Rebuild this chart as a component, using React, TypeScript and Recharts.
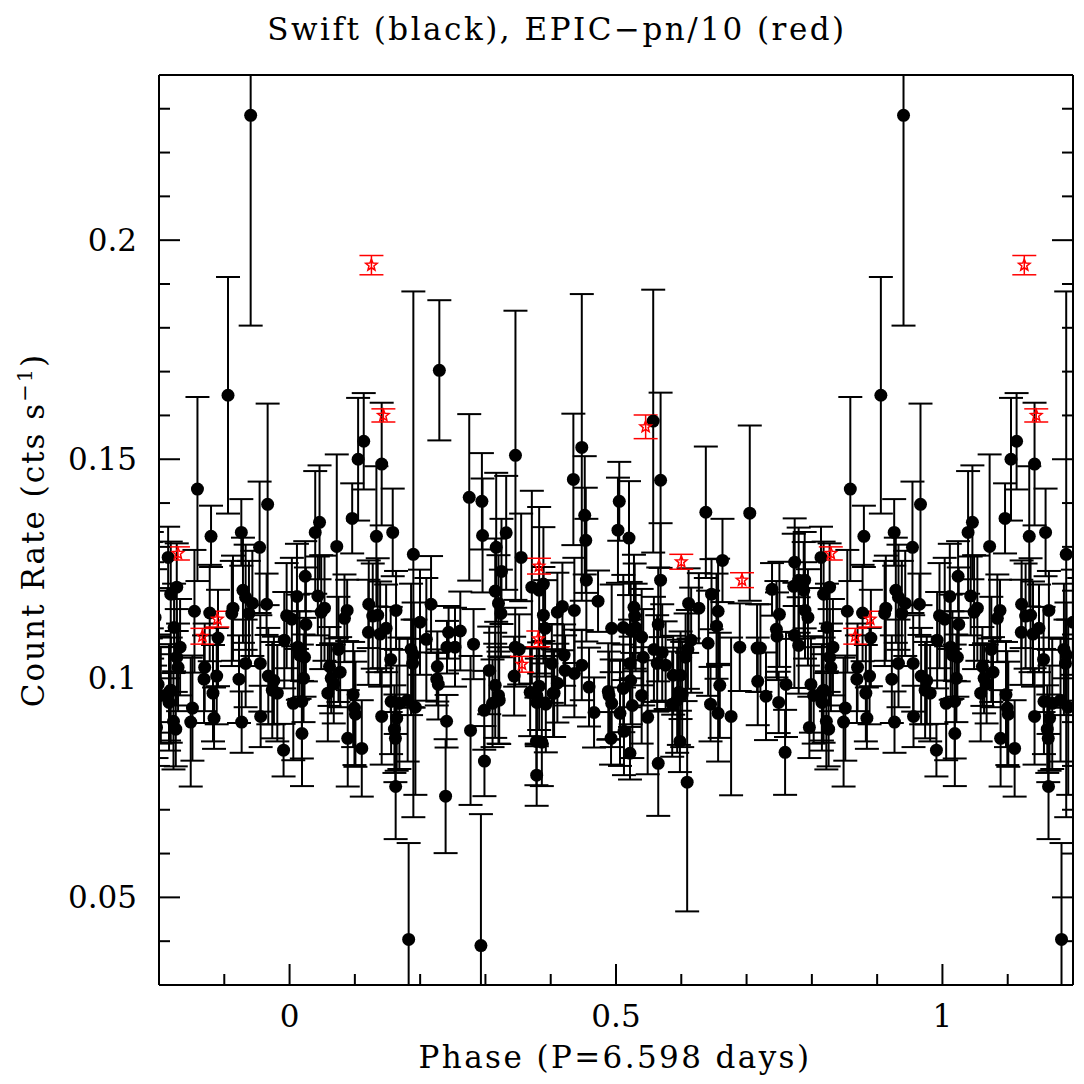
import React from 'react';
import { ScatterChart, Scatter, XAxis, YAxis, ErrorBar } from 'recharts';

// Swift light curve folded on P = 6.598 d: [phase, count rate, 1-sigma error]
const swiftPoints: [number, number, number][] = [
  [0.0035, 0.1135, 0.014], [0.0057, 0.0943, 0.013], [0.0113, 0.1187, 0.012], [0.0127, 0.1071, 0.012],
  [0.0153, 0.1053, 0.010], [0.0188, 0.0947, 0.013], [0.019, 0.0874, 0.012], [0.0214, 0.1000, 0.010],
  [0.0229, 0.1048, 0.009], [0.024, 0.1233, 0.008], [0.025, 0.1123, 0.013], [0.0393, 0.1333, 0.014],
  [0.0433, 0.1188, 0.009], [0.0459, 0.1356, 0.013], [0.0485, 0.1151, 0.013], [0.0535, 0.1160, 0.012],
  [0.0586, 0.0966, 0.011], [0.0612, 0.1027, 0.009], [0.0638, 0.1000, 0.008], [0.0677, 0.0987, 0.009],
  [0.0723, 0.1301, 0.021], [0.0749, 0.1066, 0.012], [0.0775, 0.1014, 0.008], [0.0841, 0.1137, 0.010],
  [0.0882, 0.1155, 0.007], [0.0891, 0.0863, 0.011], [0.0959, 0.1365, 0.008], [0.0974, 0.0963, 0.012],
  [0.0994, 0.0932, 0.013], [0.1009, 0.0918, 0.012], [0.105, 0.1500, 0.014], [0.1106, 0.0840, 0.011],
  [0.1136, 0.1541, 0.011], [0.1208, 0.1105, 0.012], [0.1213, 0.1169, 0.010], [0.1274, 0.1142, 0.012],
  [0.133, 0.1324, 0.016], [0.135, 0.1144, 0.013], [0.1387, 0.1101, 0.012], [0.1411, 0.1489, 0.014],
  [0.1411, 0.0913, 0.011], [0.1479, 0.1114, 0.010], [0.1549, 0.1043, 0.012], [0.1555, 0.0947, 0.012],
  [0.158, 0.1333, 0.010], [0.1606, 0.0884, 0.010], [0.1621, 0.0863, 0.010], [0.1625, 0.0753, 0.012],
  [0.1631, 0.1155, 0.009], [0.1641, 0.0909, 0.012], [0.1682, 0.0943, 0.015], [0.1809, 0.0950, 0.014],
  [0.1824, 0.0404, 0.022], [0.1861, 0.1066, 0.015], [0.1885, 0.1034, 0.010], [0.1896, 0.1283, 0.060],
  [0.19, 0.1053, 0.012], [0.1927, 0.0934, 0.020], [0.1998, 0.1128, 0.012], [0.2095, 0.1089, 0.014],
  [0.2167, 0.1169, 0.011], [0.2255, 0.0998, 0.006], [0.2263, 0.1027, 0.008], [0.2278, 0.0986, 0.008],
  [0.2294, 0.1703, 0.016], [0.239, 0.0731, 0.013], [0.2405, 0.0902, 0.006], [0.2411, 0.1071, 0.006],
  [0.2436, 0.1105, 0.006], [0.2534, 0.1071, 0.009], [0.2615, 0.1108, 0.009], [0.2752, 0.1413, 0.019],
  [0.2772, 0.0881, 0.017], [0.2818, 0.1078, 0.008], [0.2931, 0.0390, 0.030], [0.2946, 0.1404, 0.011],
  [0.2956, 0.1326, 0.013], [0.2982, 0.0927, 0.009], [0.2985, 0.0811, 0.008], [0.3058, 0.1018, 0.010],
  [0.3109, 0.0943, 0.010], [0.315, 0.1199, 0.012], [0.315, 0.0984, 0.012], [0.3165, 0.1299, 0.017],
  [0.32, 0.1171, 0.011], [0.32, 0.0961, 0.011], [0.3211, 0.0950, 0.010], [0.3237, 0.1148, 0.010],
  [0.3246, 0.1244, 0.012], [0.3318, 0.1332, 0.013], [0.344, 0.1005, 0.009], [0.3456, 0.1071, 0.009],
  [0.346, 0.1509, 0.033], [0.3517, 0.1066, 0.008], [0.3547, 0.1276, 0.010], [0.3685, 0.0968, 0.010],
  [0.3711, 0.1208, 0.022], [0.3781, 0.0856, 0.010], [0.3785, 0.0779, 0.007], [0.3787, 0.0961, 0.011],
  [0.3787, 0.0945, 0.010], [0.3823, 0.1201, 0.019], [0.3823, 0.0982, 0.010], [0.3864, 0.0854, 0.010],
  [0.3888, 0.1215, 0.013], [0.3888, 0.1144, 0.011], [0.3914, 0.1114, 0.011], [0.3925, 0.0941, 0.011],
  [0.4017, 0.1034, 0.009], [0.4037, 0.0966, 0.010], [0.4052, 0.0966, 0.010], [0.4102, 0.1151, 0.009],
  [0.4102, 0.0989, 0.009], [0.4179, 0.1164, 0.010], [0.4205, 0.1053, 0.007], [0.422, 0.1018, 0.008],
  [0.4347, 0.1454, 0.015], [0.4362, 0.1155, 0.012], [0.4362, 0.1011, 0.010], [0.4476, 0.1527, 0.035],
  [0.4476, 0.1030, 0.008], [0.4521, 0.1372, 0.0135], [0.4537, 0.1315, 0.012], [0.4546, 0.1224, 0.014],
  [0.4587, 0.0980, 0.009], [0.4664, 0.0922, 0.008], [0.4725, 0.1176, 0.007], [0.4882, 0.0970, 0.011],
  [0.4893, 0.0961, 0.010], [0.4924, 0.0863, 0.006], [0.4934, 0.1114, 0.010], [0.4934, 0.0943, 0.010],
  [0.503, 0.1338, 0.012], [0.505, 0.1404, 0.009], [0.5061, 0.0920, 0.012], [0.5112, 0.1116, 0.012],
  [0.5112, 0.0977, 0.010], [0.5122, 0.0879, 0.010], [0.5199, 0.1320, 0.013], [0.5214, 0.1034, 0.010],
  [0.5214, 0.0829, 0.006], [0.5225, 0.1110, 0.011], [0.5225, 0.0995, 0.010], [0.525, 0.0938, 0.012],
  [0.5275, 0.1162, 0.012], [0.5286, 0.1142, 0.012], [0.5301, 0.1116, 0.010], [0.5393, 0.1094, 0.011],
  [0.5393, 0.0961, 0.011], [0.5417, 0.1048, 0.011], [0.5485, 0.0911, 0.013], [0.557, 0.1587, 0.030],
  [0.5581, 0.1066, 0.012], [0.5631, 0.1034, 0.011], [0.5647, 0.1123, 0.013], [0.5647, 0.0806, 0.012],
  [0.5683, 0.1452, 0.020], [0.5683, 0.1224, 0.013], [0.5708, 0.1059, 0.011], [0.576, 0.1030, 0.010],
  [0.5861, 0.0941, 0.012], [0.5876, 0.1007, 0.009], [0.5937, 0.0950, 0.012], [0.5963, 0.0968, 0.012],
  [0.5979, 0.0856, 0.007], [0.5989, 0.1007, 0.010], [0.6014, 0.0963, 0.012], [0.6066, 0.1048, 0.010],
  [0.609, 0.0763, 0.0295], [0.6101, 0.1066, 0.009], [0.6112, 0.1171, 0.008], [0.6151, 0.1087, 0.012],
  [0.6269, 0.1160, 0.008], [0.6376, 0.1379, 0.015], [0.6411, 0.1080, 0.012], [0.6448, 0.0941, 0.0085],
  [0.6463, 0.1192, 0.008], [0.654, 0.1119, 0.012], [0.6564, 0.1153, 0.012], [0.6564, 0.0920, 0.011],
  [0.659, 0.0984, 0.012], [0.6631, 0.1269, 0.0095], [0.6763, 0.0913, 0.018], [0.6896, 0.1071, 0.010],
  [0.7049, 0.1377, 0.020], [0.7161, 0.1069, 0.010], [0.7171, 0.0993, 0.010], [0.7212, 0.1069, 0.010],
  [0.7298, 0.0959, 0.010], [0.739, 0.1203, 0.006], [0.7457, 0.1112, 0.011], [0.7466, 0.1096, 0.010],
  [0.7492, 0.0945, 0.007], [0.7503, 0.1146, 0.012], [0.759, 0.0831, 0.0097], [0.7604, 0.0986, 0.012],
  [0.7722, 0.1210, 0.012], [0.7732, 0.1098, 0.012], [0.7737, 0.1265, 0.010], [0.7798, 0.1224, 0.012],
  [0.7798, 0.1075, 0.011], [0.7875, 0.1201, 0.011], [0.789, 0.1224, 0.011], [0.7895, 0.1155, 0.011],
  [0.794, 0.1139, 0.011], [0.7962, 0.0888, 0.007], [0.7986, 0.0986, 0.011], [0.8028, 0.0961, 0.011],
  [0.814, 0.1276, 0.007], [0.8154, 0.0968, 0.011], [0.8154, 0.0945, 0.011], [0.818, 0.1192, 0.012],
  [0.818, 0.0973, 0.012], [0.8222, 0.0902, 0.011], [0.8231, 0.1116, 0.010], [0.8257, 0.0884, 0.0085],
  [0.8272, 0.1208, 0.010], [0.8272, 0.1048, 0.011], [0.8292, 0.1025, 0.010], [0.8323, 0.1071, 0.011],
  [0.8486, 0.0900, 0.0147], [0.8512, 0.0932, 0.012], [0.8543, 0.1153, 0.014], [0.8589, 0.1432, 0.021],
  [0.869, 0.0998, 0.010], [0.87, 0.1025, 0.010], [0.8777, 0.1149, 0.011], [0.8797, 0.1324, 0.007],
  [0.8827, 0.0966, 0.011], [0.8843, 0.0909, 0.007], [0.8884, 0.1005, 0.011], [0.8904, 0.1092, 0.011],
  [0.9057, 0.1646, 0.027], [0.9115, 0.1148, 0.012], [0.9133, 0.1160, 0.012], [0.9225, 0.0998, 0.010],
  [0.9261, 0.1333, 0.0076], [0.9266, 0.0900, 0.007], [0.9286, 0.1201, 0.012], [0.9327, 0.1185, 0.012],
  [0.9327, 0.1034, 0.010], [0.9378, 0.1148, 0.012], [0.9404, 0.2285, 0.048], [0.943, 0.1171, 0.012],
  [0.9541, 0.1299, 0.015], [0.9552, 0.1034, 0.011], [0.9557, 0.0913, 0.007], [0.9648, 0.1169, 0.007],
  [0.9664, 0.1397, 0.023], [0.9674, 0.1005, 0.011], [0.9735, 0.0973, 0.011], [0.976, 0.0995, 0.010],
  [0.9812, 0.0966, 0.011], [0.9908, 0.0836, 0.006], [0.9919, 0.1087, 0.011], [0.9955, 0.1143, 0.012],
];

// XMM EPIC-pn rate divided by 10
const epicPoints: [number, number, number][] = [
  [0.1254, 0.1943, 0.0022], [0.1437, 0.1600, 0.0015], [0.356, 0.1032, 0.0018], [0.381, 0.1090, 0.0018],
  [0.382, 0.1256, 0.0018], [0.5454, 0.1574, 0.0027], [0.600, 0.1266, 0.0017], [0.693, 0.1224, 0.0017],
  [0.829, 0.1285, 0.0015], [0.8665, 0.1096, 0.0018], [0.8894, 0.1135, 0.0018],
];

const xTicks = [-0.1, 0, 0.1, 0.2, 0.3, 0.4, 0.5, 0.6, 0.7, 0.8, 0.9, 1, 1.1];
const xMajor = [0, 0.5, 1];
const yTicks = [0.04, 0.05, 0.06, 0.07, 0.08, 0.09, 0.1, 0.11, 0.12, 0.13, 0.14, 0.15, 0.16, 0.17, 0.18, 0.19, 0.2, 0.21, 0.22, 0.23];
const yMajor = [0.05, 0.1, 0.15, 0.2];

const X_DOMAIN: [number, number] = [-0.2, 1.2];
const Y_DOMAIN: [number, number] = [0.03, 0.2377];
const FONT = '"DejaVu Serif", serif';

// phase-folded plot shows 1.4 cycles, so each point also appears one cycle earlier/later
const fold = (pts: [number, number, number][]) =>
  pts.flatMap(([p, r, e]) =>
    [p - 1, p, p + 1]
      .filter((ph) => ph > X_DOMAIN[0] - 0.02 && ph < X_DOMAIN[1] + 0.02)
      .map((ph) => ({ phase: ph, rate: r, err: e }))
  );

const swiftData = fold(swiftPoints);
const epicData = fold(epicPoints);

const isMajor = (list: number[], v: number) => list.some((m) => Math.abs(m - v) < 1e-6);

const BottomTick = (props: any) => {
  const { x, y, payload } = props;
  const major = isMajor(xMajor, payload.value);
  return (
    <g>
      <line x1={x} y1={y} x2={x} y2={y - (major ? 21 : 11)} stroke="#000" strokeWidth={2} />
      {major && (
        <text x={x} y={y + 42} textAnchor="middle" fontSize={31} fontFamily={FONT} fill="#000">
          {String(payload.value)}
        </text>
      )}
    </g>
  );
};

const TopTick = (props: any) => {
  const { x, y, payload } = props;
  const major = isMajor(xMajor, payload.value);
  return <line x1={x} y1={y} x2={x} y2={y + (major ? 21 : 11)} stroke="#000" strokeWidth={2} />;
};

const LeftTick = (props: any) => {
  const { x, y, payload } = props;
  const major = isMajor(yMajor, payload.value);
  return (
    <g>
      <line x1={x} y1={y} x2={x + (major ? 21 : 11)} y2={y} stroke="#000" strokeWidth={2} />
      {major && (
        <text x={x - 22} y={y + 11} textAnchor="end" fontSize={31} fontFamily={FONT} fill="#000">
          {String(payload.value)}
        </text>
      )}
    </g>
  );
};

const RightTick = (props: any) => {
  const { x, y, payload } = props;
  const major = isMajor(yMajor, payload.value);
  return <line x1={x} y1={y} x2={x - (major ? 21 : 11)} y2={y} stroke="#000" strokeWidth={2} />;
};

const Dot = (props: any) => <circle cx={props.cx} cy={props.cy} r={6.5} fill="#000" />;

const Star = (props: any) => {
  const { cx, cy } = props;
  const pts: string[] = [];
  for (let i = 0; i < 10; i++) {
    const r = i % 2 === 0 ? 6 : 2.6;
    const a = -Math.PI / 2 + (i * Math.PI) / 5;
    pts.push(`${cx + r * Math.cos(a)},${cy + r * Math.sin(a)}`);
  }
  return <polygon points={pts.join(' ')} fill="none" stroke="#ff0000" strokeWidth={1.5} />;
};

const axisLine = { stroke: '#000', strokeWidth: 2 };

// keep error bars and markers inside the frame
const clipCss = `
  .recharts-errorBars, .recharts-scatter-symbol { clip-path: url(#plotFrameClip); }
`;

const App: React.FC = () => {
  return (
    <div style={{ position: 'absolute', left: 0, top: 0, width: 1084, height: 1084, background: '#fff' }}>
      <style>{clipCss}</style>
      <svg width={0} height={0} style={{ position: 'absolute' }}>
        <defs>
          <clipPath id="plotFrameClip" clipPathUnits="userSpaceOnUse">
            <rect x={159} y={75} width={914} height={910} />
          </clipPath>
        </defs>
      </svg>
      <ScatterChart width={1084} height={1084} margin={{ top: 74, right: 10, bottom: 39, left: 59 }}>
        <XAxis
          xAxisId="b"
          dataKey="phase"
          type="number"
          domain={X_DOMAIN}
          allowDataOverflow
          ticks={xTicks}
          interval={0}
          height={60}
          tickSize={0}
          tickMargin={0}
          tickLine={false}
          axisLine={axisLine}
          tick={<BottomTick />}
        />
        <XAxis
          xAxisId="t"
          orientation="top"
          type="number"
          domain={X_DOMAIN}
          allowDataOverflow
          ticks={xTicks}
          interval={0}
          height={1}
          tickSize={0}
          tickMargin={0}
          tickLine={false}
          axisLine={axisLine}
          tick={<TopTick />}
        />
        <YAxis
          yAxisId="l"
          dataKey="rate"
          type="number"
          domain={Y_DOMAIN}
          allowDataOverflow
          ticks={yTicks}
          interval={0}
          width={100}
          tickSize={0}
          tickMargin={0}
          tickLine={false}
          axisLine={axisLine}
          tick={<LeftTick />}
        />
        <YAxis
          yAxisId="r"
          orientation="right"
          type="number"
          domain={Y_DOMAIN}
          allowDataOverflow
          ticks={yTicks}
          interval={0}
          width={1}
          tickSize={0}
          tickMargin={0}
          tickLine={false}
          axisLine={axisLine}
          tick={<RightTick />}
        />
        <Scatter xAxisId="b" yAxisId="l" data={swiftData} shape={<Dot />} isAnimationActive={false}>
          <ErrorBar dataKey="err" direction="y" width={12} stroke="#000" strokeWidth={2} isAnimationActive={false} />
        </Scatter>
        <Scatter xAxisId="b" yAxisId="l" data={epicData} shape={<Star />} isAnimationActive={false}>
          <ErrorBar dataKey="err" direction="y" width={12} stroke="#ff0000" strokeWidth={1.5} isAnimationActive={false} />
        </Scatter>
      </ScatterChart>
      <svg width={1084} height={1084} style={{ position: 'absolute', left: 0, top: 0, pointerEvents: 'none' }}>
        <text x={557} y={40} textAnchor="middle" fontSize={31} letterSpacing={2.5} fontFamily={FONT} fill="#000">
          Swift (black), EPIC−pn/10 (red)
        </text>
        <text x={615} y={1068} textAnchor="middle" fontSize={31} letterSpacing={2.4} fontFamily={FONT} fill="#000">
          Phase (P=6.598 days)
        </text>
        <text
          x={44}
          y={530}
          transform="rotate(-90 44 530)"
          textAnchor="middle"
          fontSize={31}
          letterSpacing={2}
          fontFamily={FONT}
          fill="#000"
        >
          Count Rate (cts s
          <tspan dy={-12} fontSize={21}>−1</tspan>
          <tspan dy={12}>)</tspan>
        </text>
      </svg>
    </div>
  );
};

export default App;
